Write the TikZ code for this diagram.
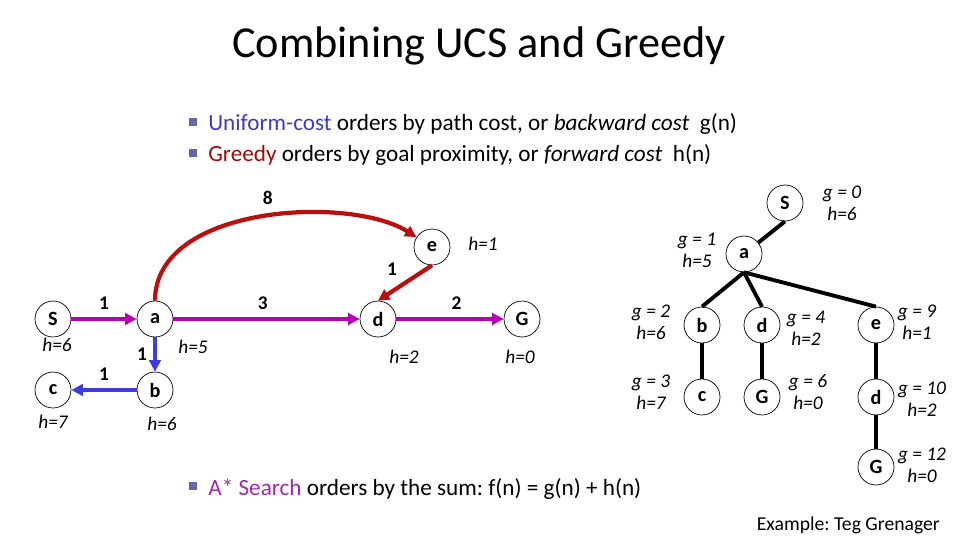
\documentclass[tikz,border=0pt]{standalone}
\usepackage{fontspec}
\setmainfont{Carlito}
\usetikzlibrary{arrows.meta}
\frenchspacing

\definecolor{ucsblue}{RGB}{60,60,225}
\definecolor{greedyred}{RGB}{185,15,15}
\definecolor{bothpurple}{RGB}{180,0,180}
\definecolor{ucstext}{RGB}{60,60,190}
\definecolor{greedytext}{RGB}{160,10,10}
\definecolor{astartext}{RGB}{160,40,170}
\definecolor{bulletgray}{RGB}{95,105,170}

\begin{document}
\begin{tikzpicture}[
        x=0.02cm, y=-0.02cm,
        state/.style={circle, draw, thin, minimum size=0.72cm, inner sep=0pt, font=\fontsize{11.5}{13}\selectfont\bfseries},
        hval/.style={font=\fontsize{11}{13}\selectfont\itshape},
        ghval/.style={font=\fontsize{11}{12.5}\selectfont\itshape, align=center},
        cost/.style={font=\fontsize{11}{13}\selectfont\bfseries},
        ucsedge/.style={draw=ucsblue, line width=2.4pt, -{Triangle[length=6.5pt, width=6.5pt]}},
        bothedge/.style={draw=bothpurple, line width=2.4pt, -{Triangle[length=6.5pt, width=6.5pt]}},
        greedyedge/.style={draw=greedyred, line width=2.4pt, -{Triangle[length=6.5pt, width=6.5pt]}},
        treeedge/.style={line width=2.2pt},
        bulletbox/.style={fill=bulletgray, minimum size=4.2pt, inner sep=0pt},
        bullettext/.style={font=\fontsize{13.2}{15}\selectfont, anchor=base west, inner sep=0pt},
    ]
    \useasboundingbox (0,0) rectangle (960,540);

    % Title and bullets
    \node[font=\fontsize{25.2}{28}\selectfont, anchor=base] (title) at (479,58) {Combining UCS and Greedy};
    \node[bulletbox] (b1) at (193,122) {};
    \node[bullettext] (t1) at (208,131) {\textcolor{ucstext}{Uniform-cost} orders by path cost, or \textit{backward cost}~ g(n)};
    \node[bulletbox] (b2) at (193,153) {};
    \node[bullettext] (t2) at (208,162) {\textcolor{greedytext}{Greedy} orders by goal proximity, or \textit{forward cost}~ h(n)};
    \node[bulletbox] (b3) at (193,486) {};
    \node[bullettext] (t3) at (208,495) {\textcolor{astartext}{A* Search} orders by the sum: f(n) = g(n) + h(n)};

    % Graph
    \node[state] (S) at (53,319) {S};
    \node[state] (a) at (155,319) {a};
    \node[state] (b) at (155,390) {b};
    \node[state] (c) at (53,390) {c};
    \node[state] (d) at (378,319) {d};
    \node[state] (e) at (432,247) {e};
    \node[state] (G) at (522,319) {G};

    \node[hval] (hS) at (57,345) {h=6};
    \node[hval] (ha) at (193,347) {h=5};
    \node[hval] (hb) at (162,424) {h=6};
    \node[hval] (hc) at (53,422) {h=7};
    \node[hval] (hd) at (404,357) {h=2};
    \node[hval] (he) at (483,244) {h=1};
    \node[hval] (hG) at (520,357) {h=0};

    \draw[bothedge] (S) -- node[cost, above=1pt] {1} (a);
    \draw[bothedge] (a) -- node[cost, above=1pt, pos=0.48] {3} (d);
    \draw[bothedge] (d) -- node[cost, above=1pt, pos=0.56] {2} (G);
    \draw[ucsedge] (a) -- node[cost, left] {1} (b);
    \draw[ucsedge] (b) -- node[cost, above=1pt] {1} (c);
    \draw[greedyedge] (a.north) .. controls (155,205) and (350,195) .. node[cost, above=2pt, pos=0.52] {8} (e);
    \draw[greedyedge] (e.south) -- node[cost, above left] {1} (d.north);

    % Search tree
    \node[state] (tS) at (785,203) {S};
    \node[state] (ta) at (744,254) {a};
    \node[state] (tb) at (702,325) {b};
    \node[state] (td) at (762,325) {d};
    \node[state] (te) at (876,325) {e};
    \node[state] (tc) at (702,397) {c};
    \node[state] (tG) at (762,397) {G};
    \node[state] (ted) at (876,397) {d};
    \node[state] (tedG) at (876,467) {G};

    \draw[treeedge] (tS.south) -- (ta);
    \foreach \n in {tb,td,te} {
        \draw[treeedge] (ta.south) -- (\n.north);
    }
    \draw[treeedge] (tb) -- (tc);
    \draw[treeedge] (td) -- (tG);
    \draw[treeedge] (te) -- (ted);
    \draw[treeedge] (ted) -- (tedG);

    \node[ghval] (gS) at (842,203) {g = 0\\h=6};
    \node[ghval] (ga) at (697,250) {g = 1\\h=5};
    \node[ghval] (gb) at (651,322) {g = 2\\h=6};
    \node[ghval] (gd) at (806,328) {g = 4\\h=2};
    \node[ghval] (ge) at (917,322) {g = 9\\h=1};
    \node[ghval] (gc) at (651,392) {g = 3\\h=7};
    \node[ghval] (gG) at (808,392) {g = 6\\h=0};
    \node[ghval] (ged) at (922,399) {g = 10\\h=2};
    \node[ghval] (gedG) at (922,465) {g = 12\\h=0};

    \node[font=\fontsize{11.2}{13}\selectfont, anchor=base east] (credit) at (946,530) {Example: Teg Grenager};

\end{tikzpicture}
\end{document}
